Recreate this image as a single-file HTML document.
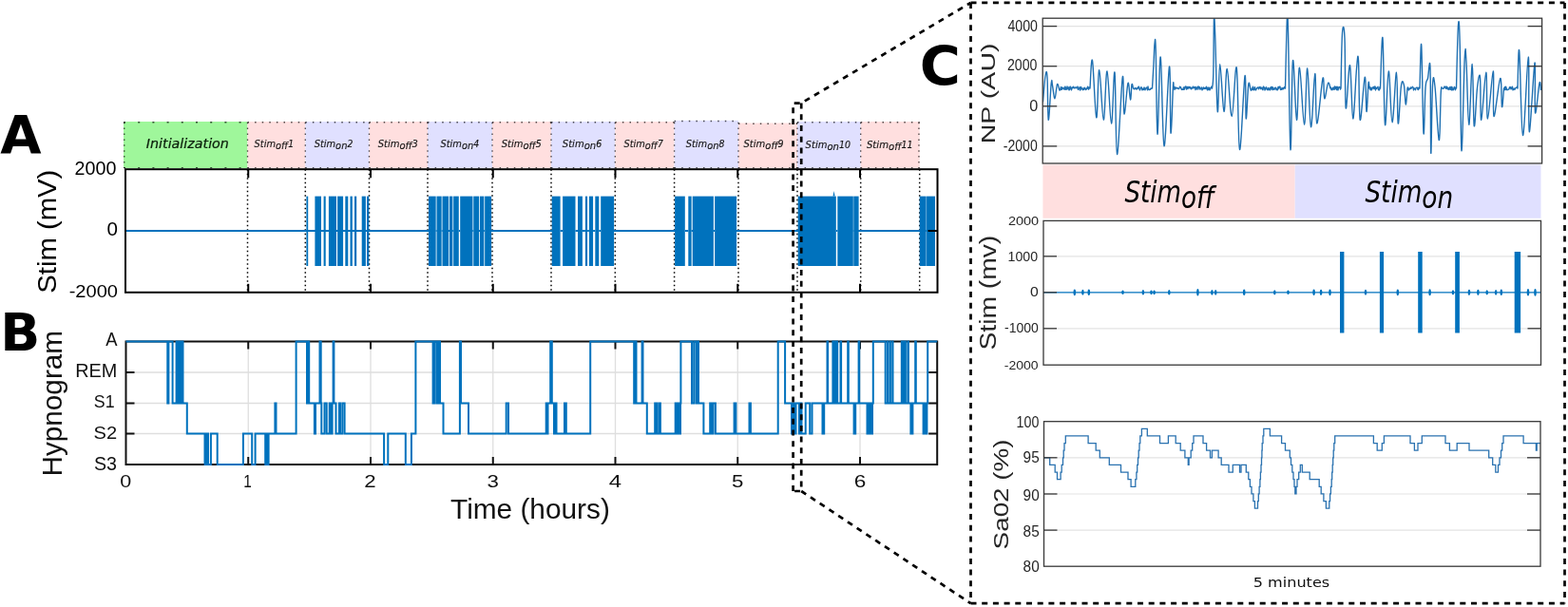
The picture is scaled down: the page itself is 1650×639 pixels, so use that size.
<!DOCTYPE html>
<html><head><meta charset="utf-8"><style>html,body{margin:0;padding:0;background:#fff;overflow:hidden;}svg{display:block;}</style></head>
<body><svg width="1650" height="639" viewBox="0 0 1650 639">
<rect width="1650" height="639" fill="#fff"/>
<rect x="130" y="128" width="130.50" height="49.0" fill="#9ff79b"/>
<rect x="260.5" y="128" width="60.80" height="49.0" fill="#ffdfdf"/>
<rect x="321.3" y="128" width="67.20" height="49.0" fill="#e0e0ff"/>
<rect x="388.5" y="128" width="61.50" height="49.0" fill="#ffdfdf"/>
<rect x="450" y="128" width="68.00" height="49.0" fill="#e0e0ff"/>
<rect x="518" y="128" width="62.00" height="49.0" fill="#ffdfdf"/>
<rect x="580" y="128" width="67.30" height="49.0" fill="#e0e0ff"/>
<rect x="647.3" y="128" width="62.30" height="49.0" fill="#ffdfdf"/>
<rect x="709.6" y="126.8" width="67.40" height="50.2" fill="#e0e0ff"/>
<rect x="777" y="129.5" width="62.00" height="47.5" fill="#ffdfdf"/>
<rect x="839" y="128" width="66.70" height="49.0" fill="#e0e0ff"/>
<rect x="905.7" y="128" width="62.00" height="49.0" fill="#ffdfdf"/>
<g stroke="#000" stroke-opacity="0.68" stroke-width="1.35" fill="none">
<path d="M130 128.7 H260.5 M130 176.6 H260.5" stroke-dasharray="2 13.2"/>
<path d="M260.5 128.7 H321.3 M260.5 176.6 H321.3" stroke-dasharray="1.5 6.1"/>
<path d="M321.3 128.7 H388.5 M321.3 176.6 H388.5" stroke-dasharray="1.5 6.1"/>
<path d="M388.5 128.7 H450 M388.5 176.6 H450" stroke-dasharray="1.5 6.1"/>
<path d="M450 128.7 H518 M450 176.6 H518" stroke-dasharray="1.5 6.1"/>
<path d="M518 128.7 H580 M518 176.6 H580" stroke-dasharray="1.5 6.1"/>
<path d="M580 128.7 H647.3 M580 176.6 H647.3" stroke-dasharray="1.5 6.1"/>
<path d="M647.3 128.7 H709.6 M647.3 176.6 H709.6" stroke-dasharray="1.5 6.1"/>
<path d="M709.6 127.5 H777 M709.6 176.6 H777" stroke-dasharray="1.5 6.1"/>
<path d="M777 130.2 H839 M777 176.6 H839" stroke-dasharray="1.5 6.1"/>
<path d="M839 128.7 H905.7 M839 176.6 H905.7" stroke-dasharray="1.5 6.1"/>
<path d="M905.7 128.7 H967.7 M905.7 176.6 H967.7" stroke-dasharray="1.5 6.1"/>
<path d="M130.75 128.7 V176.8" stroke-dasharray="1.5 4.4"/>
<path d="M260.5 128.7 V176.8" stroke-dasharray="1.5 4.4"/>
<path d="M321.3 128.7 V176.8" stroke-dasharray="1.5 4.4"/>
<path d="M388.5 128.7 V176.8" stroke-dasharray="1.5 4.4"/>
<path d="M450 128.7 V176.8" stroke-dasharray="1.5 4.4"/>
<path d="M518 128.7 V176.8" stroke-dasharray="1.5 4.4"/>
<path d="M580 128.7 V176.8" stroke-dasharray="1.5 4.4"/>
<path d="M647.3 128.7 V176.8" stroke-dasharray="1.5 4.4"/>
<path d="M709.6 128.7 V176.8" stroke-dasharray="1.5 4.4"/>
<path d="M777 128.7 V176.8" stroke-dasharray="1.5 4.4"/>
<path d="M839 128.7 V176.8" stroke-dasharray="1.5 4.4"/>
<path d="M905.7 128.7 V176.8" stroke-dasharray="1.5 4.4"/>
<path d="M966.95 128.7 V176.8" stroke-dasharray="1.5 4.4"/>
</g>
<g stroke="#000" stroke-width="1.5" stroke-dasharray="1.5 3">
<line x1="260.5" y1="178.2" x2="260.5" y2="307.8"/>
<line x1="321.3" y1="178.2" x2="321.3" y2="307.8"/>
<line x1="388.5" y1="178.2" x2="388.5" y2="307.8"/>
<line x1="450" y1="178.2" x2="450" y2="307.8"/>
<line x1="518" y1="178.2" x2="518" y2="307.8"/>
<line x1="580" y1="178.2" x2="580" y2="307.8"/>
<line x1="647.3" y1="178.2" x2="647.3" y2="307.8"/>
<line x1="709.6" y1="178.2" x2="709.6" y2="307.8"/>
<line x1="777" y1="178.2" x2="777" y2="307.8"/>
<line x1="839" y1="178.2" x2="839" y2="307.8"/>
<line x1="905.7" y1="178.2" x2="905.7" y2="307.8"/>
<line x1="967.7" y1="178.2" x2="967.7" y2="307.8"/>
</g>
<line x1="132" y1="243" x2="986.5" y2="243" stroke="#0072bd" stroke-width="2"/>
<rect x="322.4" y="206.6" width="1.80" height="73.4" fill="#0072bd"/>
<rect x="331.4" y="206.6" width="6.60" height="73.4" fill="#0072bd"/>
<rect x="340.6" y="206.6" width="2.10" height="73.4" fill="#0072bd"/>
<rect x="345.9" y="206.6" width="8.10" height="73.4" fill="#0072bd"/>
<rect x="355.1" y="206.6" width="6.00" height="73.4" fill="#0072bd"/>
<rect x="363.3" y="206.6" width="3.00" height="73.4" fill="#0072bd"/>
<rect x="368.5" y="206.6" width="2.30" height="73.4" fill="#0072bd"/>
<rect x="373" y="206.6" width="2.20" height="73.4" fill="#0072bd"/>
<rect x="380.7" y="206.6" width="4.20" height="73.4" fill="#0072bd"/>
<rect x="386" y="206.6" width="2.30" height="73.4" fill="#0072bd"/>
<rect x="451" y="206.6" width="66.10" height="73.4" fill="#0072bd"/>
<rect x="458.6" y="206" width="1.00" height="74.6" fill="#fff" opacity="0.8"/>
<rect x="458.6" y="242" width="1.00" height="2" fill="#0072bd"/>
<rect x="464.6" y="206" width="1.00" height="74.6" fill="#fff" opacity="0.8"/>
<rect x="464.6" y="242" width="1.00" height="2" fill="#0072bd"/>
<rect x="472" y="206" width="1.00" height="74.6" fill="#fff" opacity="0.8"/>
<rect x="472" y="242" width="1.00" height="2" fill="#0072bd"/>
<rect x="476.2" y="206" width="1.00" height="74.6" fill="#fff" opacity="0.8"/>
<rect x="476.2" y="242" width="1.00" height="2" fill="#0072bd"/>
<rect x="482.8" y="206" width="1.40" height="74.6" fill="#fff" opacity="1"/>
<rect x="482.8" y="242" width="1.40" height="2" fill="#0072bd"/>
<rect x="497.3" y="206" width="1.00" height="74.6" fill="#fff" opacity="0.8"/>
<rect x="497.3" y="242" width="1.00" height="2" fill="#0072bd"/>
<rect x="504" y="206" width="1.00" height="74.6" fill="#fff" opacity="0.8"/>
<rect x="504" y="242" width="1.00" height="2" fill="#0072bd"/>
<rect x="509.2" y="206" width="1.00" height="74.6" fill="#fff" opacity="0.8"/>
<rect x="509.2" y="242" width="1.00" height="2" fill="#0072bd"/>
<rect x="580.7" y="206.6" width="65.40" height="73.4" fill="#0072bd"/>
<rect x="589.6" y="206" width="2.50" height="74.6" fill="#fff" opacity="1"/>
<rect x="589.6" y="242" width="2.50" height="2" fill="#0072bd"/>
<rect x="605.5" y="206" width="2.50" height="74.6" fill="#fff" opacity="1"/>
<rect x="605.5" y="242" width="2.50" height="2" fill="#0072bd"/>
<rect x="612.9" y="206" width="3.00" height="74.6" fill="#fff" opacity="1"/>
<rect x="612.9" y="242" width="3.00" height="2" fill="#0072bd"/>
<rect x="618.1" y="206" width="1.80" height="74.6" fill="#fff" opacity="1"/>
<rect x="618.1" y="242" width="1.80" height="2" fill="#0072bd"/>
<rect x="624.1" y="206" width="2.20" height="74.6" fill="#fff" opacity="1"/>
<rect x="624.1" y="242" width="2.20" height="2" fill="#0072bd"/>
<rect x="630.3" y="206" width="1.90" height="74.6" fill="#fff" opacity="1"/>
<rect x="630.3" y="242" width="1.90" height="2" fill="#0072bd"/>
<rect x="710.1" y="206.6" width="65.00" height="73.4" fill="#0072bd"/>
<rect x="720.8" y="206" width="3.50" height="74.6" fill="#fff" opacity="1"/>
<rect x="720.8" y="242" width="3.50" height="2" fill="#0072bd"/>
<rect x="727.5" y="206" width="1.50" height="74.6" fill="#fff" opacity="0.7"/>
<rect x="727.5" y="242" width="1.50" height="2" fill="#0072bd"/>
<rect x="750.9" y="206" width="1.20" height="74.6" fill="#fff" opacity="1"/>
<rect x="750.9" y="242" width="1.20" height="2" fill="#0072bd"/>
<rect x="839.7" y="206.6" width="63.90" height="73.4" fill="#0072bd"/>
<rect x="879.8" y="206" width="1.50" height="74.6" fill="#fff" opacity="1"/>
<rect x="879.8" y="242" width="1.50" height="2" fill="#0072bd"/>
<rect x="897.7" y="206" width="0.70" height="74.6" fill="#fff" opacity="0.6"/>
<rect x="897.7" y="242" width="0.70" height="2" fill="#0072bd"/>
<path d="M876.5 206.6 L877.6 201 L878.6 206.6Z" fill="#0072bd"/>
<rect x="967.7" y="206.6" width="16.30" height="73.4" fill="#0072bd"/>
<rect x="974.3" y="206" width="0.80" height="74.6" fill="#fff" opacity="0.5"/>
<rect x="974.3" y="242" width="0.80" height="2" fill="#0072bd"/>
<rect x="132" y="178.2" width="854.5" height="129.60000000000002" fill="none" stroke="#000" stroke-width="2"/>
<g stroke="#000" stroke-width="2">
<line x1="261.25" y1="178.2" x2="261.25" y2="187.2"/>
<line x1="261.25" y1="307.8" x2="261.25" y2="298.8"/>
<line x1="390.0" y1="178.2" x2="390.0" y2="187.2"/>
<line x1="390.0" y1="307.8" x2="390.0" y2="298.8"/>
<line x1="518.75" y1="178.2" x2="518.75" y2="187.2"/>
<line x1="518.75" y1="307.8" x2="518.75" y2="298.8"/>
<line x1="647.5" y1="178.2" x2="647.5" y2="187.2"/>
<line x1="647.5" y1="307.8" x2="647.5" y2="298.8"/>
<line x1="776.25" y1="178.2" x2="776.25" y2="187.2"/>
<line x1="776.25" y1="307.8" x2="776.25" y2="298.8"/>
<line x1="905.0" y1="178.2" x2="905.0" y2="187.2"/>
<line x1="905.0" y1="307.8" x2="905.0" y2="298.8"/>
<line x1="986.5" y1="243" x2="976.5" y2="243"/>
</g>
<g stroke="#dedede" stroke-width="1.3">
<line x1="132.5" y1="392" x2="986.2" y2="392"/>
<line x1="132.5" y1="424.5" x2="986.2" y2="424.5"/>
<line x1="132.5" y1="456.5" x2="986.2" y2="456.5"/>
<line x1="261.25" y1="359.5" x2="261.25" y2="489"/>
<line x1="390.0" y1="359.5" x2="390.0" y2="489"/>
<line x1="518.75" y1="359.5" x2="518.75" y2="489"/>
<line x1="647.5" y1="359.5" x2="647.5" y2="489"/>
<line x1="776.25" y1="359.5" x2="776.25" y2="489"/>
<line x1="905.0" y1="359.5" x2="905.0" y2="489"/>
</g>
<rect x="132.5" y="359.5" width="853.7" height="129.5" fill="none" stroke="#111" stroke-width="2"/>
<g stroke="#111" stroke-width="2">
<line x1="132.5" y1="392" x2="141.5" y2="392"/>
<line x1="986.2" y1="392" x2="977.2" y2="392"/>
<line x1="132.5" y1="424.5" x2="141.5" y2="424.5"/>
<line x1="986.2" y1="424.5" x2="977.2" y2="424.5"/>
<line x1="132.5" y1="456.5" x2="141.5" y2="456.5"/>
<line x1="986.2" y1="456.5" x2="977.2" y2="456.5"/>
<line x1="261.25" y1="359.5" x2="261.25" y2="367.5"/>
<line x1="261.25" y1="489" x2="261.25" y2="481"/>
<line x1="390.0" y1="359.5" x2="390.0" y2="367.5"/>
<line x1="390.0" y1="489" x2="390.0" y2="481"/>
<line x1="518.75" y1="359.5" x2="518.75" y2="367.5"/>
<line x1="518.75" y1="489" x2="518.75" y2="481"/>
<line x1="647.5" y1="359.5" x2="647.5" y2="367.5"/>
<line x1="647.5" y1="489" x2="647.5" y2="481"/>
<line x1="776.25" y1="359.5" x2="776.25" y2="367.5"/>
<line x1="776.25" y1="489" x2="776.25" y2="481"/>
<line x1="905.0" y1="359.5" x2="905.0" y2="367.5"/>
<line x1="905.0" y1="489" x2="905.0" y2="481"/>
</g>
<path d="M132.5 359.5 H176.3 V424.5 H177.4 V359.5 H181.6 V424.5 H185.6 V359.5 H185.9 V424.5 H187.9 V359.5 H188.2 V424.5 H190.0 V359.5 H190.3 V424.5 H192.1 V359.5 H192.5 V424.5 H196.8 V456.5 H215.5 V489 H217.4 V456.5 H219 V489 H221.9 V456.5 H228.7 V489 H255.9 V456.5 H265.2 V489 H268.6 V456.5 H279.2 V489 H280.5 V456.5 H281.3 V489 H282.6 V456.5 H289.4 V424.5 H290.5 V456.5 H311.6 V359.5 H323.0 V424.5 H324.0 V359.5 H325.2 V424.5 H330.9 V456.5 H332.0 V424.5 H336.5 V359.5 H337.7 V424.5 H338.3 V456.5 H341.5 V424.5 H343.7 V456.5 H346.7 V424.5 H348.0 V456.5 H349.6 V424.5 H350.6 V359.5 H351.4 V424.5 H353.5 V456.5 H356.9 V424.5 H358.0 V456.5 H360.3 V424.5 H362.6 V456.5 H404.1 V489 H408.3 V456.5 H426.8 V489 H432.9 V456.5 H437.4 V359.5 H455.6 V424.5 H457.2 V359.5 H459.4 V424.5 H461.3 V359.5 H463 V424.5 H466.5 V456.5 H483.9 V359.5 H485 V424.5 H493 V456.5 H532.7 V424.5 H535 V456.5 H574.7 V424.5 H575.6 V456.5 H576.5 V424.5 H579.2 V359.5 H580.8 V424.5 H583 V456.5 H584.5 V424.5 H585.5 V456.5 H594 V424.5 H595.8 V456.5 H621.2 V359.5 H667.2 V424.5 H668.2 V359.5 H669.5 V424.5 H675.6 V359.5 H676.5 V424.5 H680.8 V456.5 H689.2 V424.5 H690 V456.5 H690.8 V424.5 H691.5 V456.5 H693.7 V424.5 H694.9 V456.5 H710.7 V424.5 H712 V456.5 H713.5 V424.5 H715 V456.5 H716 V424.5 H716.4 V359.5 H728 V424.5 H730.2 V359.5 H732.5 V424.5 H733.5 V359.5 H735 V424.5 H740.4 V456.5 H747.2 V424.5 H748.5 V456.5 H750.5 V424.5 H752.9 V456.5 H772.6 V424.5 H774.4 V456.5 H788.5 V424.5 H789.9 V456.5 H818.7 V359.5 H826.1 V424.5 H833 V456.5 H834.5 V424.5 H835.5 V456.5 H837.5 V424.5 H840.9 V456.5 H842.5 V424.5 H843.5 V456.5 H847.7 V424.5 H852.2 V456.5 H854.5 V424.5 H865.5 V456.5 H867.2 V424.5 H870.5 V359.5 H871.1 V424.5 H876.4 V359.5 H877.0 V424.5 H878.4 V359.5 H879.0 V424.5 H880.6 V359.5 H881.2 V424.5 H884.5 V359.5 H885.1 V424.5 H892.2 V359.5 H892.8000000000001 V424.5 H898.6 V456.5 H900.2 V424.5 H903.6 V359.5 H904.2 V424.5 H912.5 V456.5 H913.6 V424.5 H914.4 V456.5 H916.0 V424.5 H916.8 V456.5 H918.0 V424.5 H918.8 V359.5 H931.7 V424.5 H934.0 V359.5 H934.3 V424.5 H936.6 V359.5 H936.9 V424.5 H939.2 V359.5 H939.5 V424.5 H948.8 V359.5 H949.4 V424.5 H950.8 V359.5 H951.4 V424.5 H952.3 V359.5 H952.9 V424.5 H955.3 V359.5 H955.9 V424.5 H958.4 V456.5 H960.4 V424.5 H963.2 V359.5 H963.8000000000001 V424.5 H971.6 V456.5 H972.8 V424.5 H973.6 V456.5 H975.4 V424.5 H976.2 V359.5 H986.2" fill="none" stroke="#0072bd" stroke-width="2" stroke-linejoin="miter"/>
<g stroke="#000" stroke-width="2.7" stroke-dasharray="6 5.7" fill="none">
<path d="M1021.5 2.9 H1646.5"/>
<path d="M1646.5 2.9 V635.2"/>
<path d="M1021.5 635.2 H1646.5"/>
<path d="M1021.5 2.9 V635.2"/>
<path d="M834.6 517 L834.6 108.6 L843.2 108.6 L1021.5 2.9"/>
<path d="M843.2 108.6 L843.2 517 L834.6 517 M843.2 517 L1021.5 635.2"/>
</g>
<g stroke="#e3e3e3" stroke-width="1.2">
<line x1="1097.2" y1="27.6" x2="1622.6" y2="27.6"/>
<line x1="1097.2" y1="69.7" x2="1622.6" y2="69.7"/>
<line x1="1097.2" y1="111.8" x2="1622.6" y2="111.8"/>
<line x1="1097.2" y1="153.9" x2="1622.6" y2="153.9"/>
</g>
<clipPath id="npc"><rect x="1097.2" y="19.2" width="525.4" height="152.8"/></clipPath>
<path d="M1097.5 107.5 C1097.96 102.46 1099.17 84.86 1100.00 80.00 C1100.83 75.14 1101.40 72.52 1102.00 81.00 C1102.60 89.48 1102.47 125.06 1103.25 126.25 C1104.03 127.44 1105.47 94.15 1106.25 87.50 C1107.03 80.85 1106.81 87.02 1107.50 90.00 C1108.19 92.98 1109.08 103.98 1110.00 103.75 C1110.92 103.52 1111.58 90.35 1112.50 88.75 C1113.42 87.15 1114.36 94.22 1115.00 95.00 C1115.64 95.78 1115.82 93.37 1116.00 93.00 L1116.50 91.54 L1117.00 94.39 L1117.50 94.06 L1118.00 92.02 L1118.50 92.98 L1119.00 92.80 L1119.50 93.61 L1120.00 94.15 L1120.50 91.38 L1121.00 91.11 L1121.50 94.34 L1122.00 92.73 L1122.50 94.05 L1123.00 91.01 L1123.50 92.78 L1124.00 93.89 L1124.50 91.92 L1125.00 94.78 L1125.50 94.61 L1126.00 91.12 L1126.50 91.10 L1127.00 93.17 L1127.50 94.76 L1128.00 92.52 L1128.50 91.87 L1129.00 92.69 L1129.50 91.12 L1130.00 91.89 L1130.50 92.75 L1131.00 92.98 L1131.50 91.93 L1132.00 91.92 L1132.50 91.88 L1133.00 92.84 L1133.50 92.16 L1134.00 91.09 L1134.50 94.35 L1135.00 93.23 L1135.50 93.57 L1136.00 91.74 L1136.50 94.97 L1137.00 94.44 L1137.50 91.48 L1138.00 92.33 L1138.50 93.89 L1139.00 93.84 L1139.50 94.75 L1140.00 92.69 L1140.50 94.32 L1141.00 93.68 L1141.50 92.21 L1142.00 93.35 L1142.50 94.53 L1143.00 94.38 L1143.50 93.02 L1144.00 93.36 L1144.50 91.14 L1145.00 91.97 L1145.50 94.19 L1146.00 92.66 L1146.50 91.69 L1147 93 C1147.46 87.64 1148.26 58.11 1149.50 63.75 C1150.74 69.39 1152.42 121.92 1153.75 123.75 C1155.08 125.58 1155.38 73.29 1156.75 73.75 C1158.12 74.21 1159.74 126.02 1161.25 126.25 C1162.76 126.48 1163.49 74.31 1165.00 75.00 C1166.51 75.69 1168.03 129.77 1169.50 130.00 C1170.97 130.23 1171.90 70.29 1173.00 76.25 C1174.10 82.21 1173.99 161.58 1175.50 162.50 C1177.01 163.42 1179.88 89.04 1181.25 81.25 C1182.62 73.46 1181.95 118.85 1183.00 120.00 C1184.05 121.15 1185.81 90.25 1187.00 87.50 C1188.19 84.75 1188.77 104.72 1189.50 105.00 C1190.23 105.28 1190.45 91.20 1191.00 89.00 C1191.55 86.80 1192.22 92.27 1192.50 93.00 L1193.00 93.20 L1193.50 93.81 L1194.00 93.70 L1194.50 92.50 L1195.00 92.76 L1195.50 93.03 L1196.00 94.11 L1196.50 93.08 L1197.00 92.57 L1197.50 92.96 L1198.00 91.12 L1198.50 91.17 L1199.00 93.81 L1199.50 94.93 L1200.00 93.37 L1200.50 92.57 L1201.00 91.68 L1201.50 93.01 L1202.00 94.93 L1202.50 94.08 L1203.00 93.16 L1203.50 94.44 L1204.00 91.93 L1204.50 93.06 L1205.00 94.81 L1205.50 93.31 L1206.00 92.84 L1206.50 92.08 L1207.00 93.19 L1207.50 94.83 L1208.00 91.02 L1208.50 94.13 L1209.00 94.28 L1209.50 94.54 L1210.00 93.96 L1210.50 94.24 L1211.00 93.07 L1211.50 93.25 L1212.00 92.70 L1212.5 93 C1212.78 88.23 1213.54 75.57 1214.00 67.00 C1214.46 58.43 1214.60 49.00 1215.00 46.25 C1215.40 43.50 1215.65 34.58 1216.20 52.00 C1216.75 69.42 1217.07 139.78 1218.00 141.25 C1218.93 142.72 1219.97 57.71 1221.25 60.00 C1222.53 62.29 1223.30 151.92 1225.00 153.75 C1226.70 155.58 1229.22 72.52 1230.50 70.00 C1231.78 67.48 1231.27 136.33 1232.00 140.00 C1232.73 143.67 1233.95 98.62 1234.50 90.00 C1235.05 81.38 1234.91 92.45 1235.00 93.00 L1235.50 91.22 L1236.00 94.48 L1236.50 93.28 L1237.00 91.80 L1237.50 93.02 L1238.00 92.94 L1238.50 92.43 L1239.00 92.38 L1239.50 93.15 L1240.00 93.49 L1240.50 93.45 L1241.00 92.83 L1241.50 91.11 L1242.00 91.92 L1242.50 91.71 L1243.00 93.34 L1243.50 94.44 L1244.00 94.19 L1244.50 94.19 L1245.00 94.27 L1245.50 92.02 L1246.00 94.37 L1246.50 93.69 L1247.00 91.33 L1247.50 91.07 L1248.00 91.06 L1248.50 94.02 L1249.00 92.00 L1249.50 91.44 L1250.00 93.50 L1250.50 92.38 L1251.00 91.28 L1251.50 91.64 L1252.00 93.11 L1252.50 91.67 L1253.00 92.09 L1253.50 93.85 L1254.00 92.82 L1254.50 92.29 L1255.00 92.90 L1255.50 91.09 L1256.00 92.55 L1256.50 92.68 L1257.00 91.75 L1257.50 91.44 L1258.00 94.60 L1258.50 93.04 L1259.00 91.84 L1259.50 93.42 L1260.00 94.27 L1260.50 91.08 L1261.00 91.07 L1261.50 91.59 L1262.00 93.88 L1262.50 91.64 L1263.00 93.82 L1263.50 93.71 L1264.00 93.18 L1264.50 91.88 L1265.00 94.90 L1265.50 94.19 L1266.00 93.07 L1266.50 91.89 L1267.00 93.59 L1267.50 92.58 L1268.00 93.30 L1268.50 92.28 L1269.00 93.52 L1269.50 91.24 L1270.00 92.19 L1270.50 94.87 L1271.00 94.50 L1271.50 92.23 L1272.00 94.43 L1272.50 92.24 L1273.00 94.76 L1273.50 93.98 L1274.00 92.66 L1274.50 92.01 L1275.00 91.03 L1275.5 93 C1275.74 90.25 1276.43 91.57 1276.80 78.00 C1277.17 64.43 1277.13 25.97 1277.50 19.00 C1277.87 12.03 1278.11 21.94 1278.80 40.00 C1279.49 58.06 1280.34 112.46 1281.25 117.50 C1282.16 122.54 1282.51 67.50 1283.75 67.50 C1284.99 67.50 1286.62 116.58 1288.00 117.50 C1289.38 118.42 1289.74 71.58 1291.25 72.50 C1292.76 73.42 1294.42 122.73 1296.25 122.50 C1298.08 122.27 1299.74 64.83 1301.25 71.25 C1302.76 77.67 1302.90 155.90 1304.50 157.50 C1306.10 159.10 1308.76 85.96 1310.00 80.00 C1311.24 74.04 1310.55 123.39 1311.25 125.00 C1311.95 126.61 1312.89 94.30 1313.80 88.80 C1314.71 83.30 1315.52 94.23 1316.20 95.00 C1316.88 95.77 1317.26 93.37 1317.50 93.00 L1318.00 94.51 L1318.50 91.15 L1319.00 94.28 L1319.50 94.85 L1320.00 93.28 L1320.50 91.69 L1321.00 94.47 L1321.50 94.90 L1322.00 93.82 L1322.50 93.04 L1323.00 92.51 L1323.50 92.39 L1324.00 91.82 L1324.50 93.70 L1325.00 92.73 L1325.50 91.78 L1326.00 91.42 L1326.50 93.66 L1327.00 92.18 L1327.50 93.00 L1328.00 92.30 L1328.50 94.49 L1329.00 94.60 L1329.50 91.07 L1330.00 91.80 L1330.50 92.31 L1331.00 94.95 L1331.50 94.13 L1332.00 92.36 L1332.50 91.85 L1333.00 93.70 L1333.50 94.35 L1334.00 94.73 L1334.50 92.38 L1335.00 94.53 L1335.50 93.75 L1336.00 92.94 L1336.50 94.94 L1337.00 91.94 L1337.50 93.90 L1338.00 91.34 L1338.50 91.68 L1339.00 94.64 L1339.50 91.85 L1340.00 94.04 L1340.50 93.40 L1341.00 94.36 L1341.50 92.47 L1342.00 92.36 L1342.50 92.16 L1343.00 94.47 L1343.50 93.42 L1344.00 94.82 L1344.50 94.55 L1345.00 91.54 L1345.50 93.20 L1346.00 91.42 L1346.50 91.16 L1347.00 91.29 L1347.50 94.46 L1348.00 94.15 L1348.50 94.31 L1349.00 92.36 L1349.50 93.46 L1350.00 94.13 L1350.50 92.51 L1351.00 93.28 L1351.50 91.89 L1352.00 91.33 L1352.5 93 C1352.85 79.43 1353.85 30.00 1354.40 19.00 C1354.95 8.00 1354.84 7.61 1355.50 33.00 C1356.16 58.39 1357.08 151.86 1358.00 157.50 C1358.92 163.14 1359.31 69.48 1360.50 63.75 C1361.69 58.02 1363.22 124.88 1364.50 126.25 C1365.78 127.62 1366.03 70.33 1367.50 71.25 C1368.97 72.17 1370.99 131.11 1372.50 131.25 C1374.01 131.39 1374.47 71.54 1375.75 72.00 C1377.03 72.46 1378.03 132.74 1379.50 133.75 C1380.97 134.76 1382.60 78.19 1383.75 77.50 C1384.90 76.81 1384.24 129.08 1385.75 130.00 C1387.26 130.92 1390.53 87.31 1392.00 82.50 C1393.47 77.69 1392.74 102.83 1393.75 103.75 C1394.76 104.67 1396.35 89.47 1397.50 87.50 C1398.65 85.53 1399.54 91.99 1400.00 93.00 L1400.50 92.07 L1401.00 94.56 L1401.50 93.26 L1402.00 94.70 L1402.50 92.83 L1403.00 92.11 L1403.50 94.15 L1404.00 94.31 L1404.50 91.05 L1405.00 93.68 L1405.50 91.37 L1406.00 91.46 L1406.50 94.54 L1407.00 91.16 L1407.50 91.96 L1408.00 94.95 L1408.50 92.68 L1409.00 91.46 L1409.50 91.67 L1410.00 91.97 L1410.50 93.98 L1411 93 C1411.28 82.37 1411.77 44.72 1412.50 35.00 C1413.23 25.28 1414.31 25.56 1415.00 40.00 C1415.69 54.44 1415.24 108.48 1416.25 113.75 C1417.26 119.02 1419.12 66.69 1420.50 68.75 C1421.88 70.81 1422.47 124.31 1423.75 125.00 C1425.03 125.69 1426.45 83.73 1427.50 72.50 C1428.55 61.27 1428.81 53.90 1429.50 63.75 C1430.19 73.60 1430.01 123.04 1431.25 126.25 C1432.49 129.46 1435.01 82.85 1436.25 81.25 C1437.49 79.65 1437.31 116.35 1438.00 117.50 C1438.69 118.65 1439.45 91.99 1440.00 87.50 C1440.55 83.01 1440.82 91.99 1441.00 93.00 L1441.50 91.41 L1442.00 94.64 L1442.50 92.51 L1443.00 94.88 L1443.50 94.64 L1444.00 92.18 L1444.50 92.01 L1445.00 92.91 L1445.50 91.40 L1446.00 93.61 L1446.50 91.16 L1447.00 91.04 L1447.50 94.93 L1448.00 92.18 L1448.50 93.39 L1449.00 92.80 L1449.50 92.25 L1450.00 91.25 L1450.50 94.65 L1451.00 94.88 L1451.50 94.88 L1452.00 91.45 L1452.5 93 C1452.96 83.28 1454.08 32.99 1455.00 40.00 C1455.92 47.01 1456.35 124.83 1457.50 131.25 C1458.65 137.67 1459.88 75.46 1461.25 75.00 C1462.62 74.54 1463.49 128.52 1465.00 128.75 C1466.51 128.98 1468.35 76.02 1469.50 76.25 C1470.65 76.48 1470.33 127.48 1471.25 130.00 C1472.17 132.52 1473.35 97.33 1474.50 90.00 C1475.65 82.67 1476.63 86.33 1477.50 90.00 C1478.37 93.67 1478.61 109.45 1479.25 110.00 C1479.89 110.55 1480.68 96.12 1481.00 93.00 L1481.50 91.86 L1482.00 93.47 L1482.50 94.92 L1483.00 93.17 L1483.50 93.75 L1484.00 93.65 L1484.50 92.04 L1485.00 93.17 L1485.50 92.23 L1486.00 91.99 L1486.50 91.33 L1487.00 92.12 L1487.50 94.93 L1488.00 92.79 L1488.50 93.61 L1489.00 93.57 L1489.50 94.76 L1490.00 92.56 L1490.50 92.23 L1491.00 92.31 L1491.50 92.27 L1492.00 94.39 L1492.50 94.57 L1493.00 92.21 L1493.50 92.34 L1494 93 C1494.32 84.66 1495.02 38.88 1495.75 47.50 C1496.48 56.12 1497.22 131.75 1498.00 140.00 C1498.78 148.25 1499.17 103.04 1500.00 92.50 C1500.83 81.96 1501.58 86.40 1502.50 82.50 C1503.42 78.60 1504.40 56.81 1505.00 71.25 C1505.60 85.69 1505.29 157.81 1505.75 161.25 C1506.21 164.69 1506.72 102.88 1507.50 90.00 C1508.28 77.12 1508.76 80.46 1510.00 91.00 C1511.24 101.54 1513.10 146.31 1514.25 147.50 C1515.40 148.69 1515.65 107.49 1516.25 97.50 C1516.85 87.51 1517.27 93.83 1517.50 93.00 L1518.00 93.18 L1518.50 93.32 L1519.00 93.38 L1519.50 91.98 L1520.00 91.08 L1520.50 91.98 L1521.00 91.29 L1521.50 93.20 L1522.00 91.28 L1522.50 91.30 L1523.00 93.54 L1523.50 92.16 L1524.00 94.17 L1524.50 92.97 L1525.00 94.45 L1525.50 91.62 L1526.00 93.01 L1526.50 94.18 L1527.00 91.31 L1527.50 94.80 L1528.00 91.69 L1528.50 94.10 L1529.00 94.94 L1529.50 94.29 L1530.00 92.28 L1530.50 91.43 L1531.00 93.06 L1531.50 94.68 L1532.00 92.17 L1532.5 93 C1532.87 80.76 1533.81 34.59 1534.50 26.25 C1535.19 17.91 1535.61 23.21 1536.25 47.50 C1536.89 71.79 1537.08 156.23 1538.00 158.75 C1538.92 161.27 1540.33 78.44 1541.25 61.25 C1542.17 44.06 1542.17 52.17 1543.00 65.00 C1543.83 77.83 1544.60 130.79 1545.75 131.25 C1546.90 131.71 1548.24 67.27 1549.25 67.50 C1550.26 67.73 1550.29 127.92 1551.25 132.50 C1552.21 137.08 1553.35 101.90 1554.50 92.50 C1555.65 83.10 1556.72 75.06 1557.50 81.25 C1558.28 87.44 1557.60 127.17 1558.75 126.25 C1559.90 125.33 1562.51 76.48 1563.75 76.25 C1564.99 76.02 1564.12 125.23 1565.50 125.00 C1566.88 124.77 1570.06 75.46 1571.25 75.00 C1572.44 74.54 1570.62 121.12 1572.00 122.50 C1573.38 123.88 1577.19 84.33 1578.75 82.50 C1580.31 80.67 1579.81 110.58 1580.50 112.50 C1581.19 114.42 1582.13 96.58 1582.50 93.00 L1583.00 94.58 L1583.50 91.57 L1584.00 94.64 L1584.50 91.13 L1585.00 92.26 L1585.50 94.61 L1586.00 94.22 L1586.50 94.63 L1587.00 94.36 L1587.50 93.98 L1588.00 93.76 L1588.50 91.71 L1589.00 92.73 L1589.50 91.63 L1590.00 93.86 L1590.50 93.67 L1591.00 92.01 L1591.50 91.26 L1592.00 94.85 L1592.50 94.23 L1593.00 93.20 L1593.50 93.17 L1594.00 94.41 L1594.50 92.81 L1595.00 92.58 L1595.50 92.35 L1596.00 92.03 L1596.50 91.10 L1597 93 C1597.32 85.80 1597.74 44.67 1598.75 53.75 C1599.76 62.83 1600.76 141.35 1602.50 142.50 C1604.24 143.65 1607.01 60.69 1608.25 60.00 C1609.49 59.31 1608.01 137.60 1609.25 138.75 C1610.49 139.90 1613.85 69.92 1615.00 66.25 C1616.15 62.58 1614.58 114.85 1615.50 118.75 C1616.42 122.65 1618.90 91.85 1620.00 87.50 C1621.10 83.15 1621.22 93.62 1621.50 95.00" fill="none" stroke="#1f70b2" stroke-width="1.4" stroke-linejoin="round" clip-path="url(#npc)"/>
<rect x="1097.2" y="19.2" width="525.4" height="152.8" fill="none" stroke="#383838" stroke-width="1.3"/>
<g stroke="#383838" stroke-width="1.3">
<line x1="1097.2" y1="27.6" x2="1112.2" y2="27.6"/><line x1="1622.6" y1="27.6" x2="1607.6" y2="27.6"/>
<line x1="1097.2" y1="69.7" x2="1112.2" y2="69.7"/><line x1="1622.6" y1="69.7" x2="1607.6" y2="69.7"/>
<line x1="1097.2" y1="111.8" x2="1112.2" y2="111.8"/><line x1="1622.6" y1="111.8" x2="1607.6" y2="111.8"/>
<line x1="1097.2" y1="153.9" x2="1112.2" y2="153.9"/><line x1="1622.6" y1="153.9" x2="1607.6" y2="153.9"/>
</g>
<rect x="1097.4" y="173.3" width="265.3" height="56.4" fill="#ffdfdf"/>
<rect x="1362.7" y="173.3" width="258.8" height="56.4" fill="#e0e0ff"/>
<g stroke="#e3e3e3" stroke-width="1.2">
<line x1="1098" y1="269.8" x2="1621.5" y2="269.8"/>
<line x1="1098" y1="345.8" x2="1621.5" y2="345.8"/>
</g>
<line x1="1098" y1="307.8" x2="1621.5" y2="307.8" stroke="#0072bd" stroke-width="1.3"/>
<ellipse cx="1130.8" cy="307.8" rx="1.3" ry="3.4" fill="#0072bd"/>
<ellipse cx="1139.4" cy="307.8" rx="1.3" ry="3.0" fill="#0072bd"/>
<ellipse cx="1145.8" cy="307.8" rx="1.3" ry="3.2" fill="#0072bd"/>
<ellipse cx="1181.5" cy="307.8" rx="1.3" ry="2.3" fill="#0072bd"/>
<ellipse cx="1202.9" cy="307.8" rx="1.3" ry="2.8" fill="#0072bd"/>
<ellipse cx="1211.5" cy="307.8" rx="1.3" ry="2.4" fill="#0072bd"/>
<ellipse cx="1214.6" cy="307.8" rx="1.3" ry="2.4" fill="#0072bd"/>
<ellipse cx="1230.3" cy="307.8" rx="1.3" ry="2.7" fill="#0072bd"/>
<ellipse cx="1260.4" cy="307.8" rx="1.3" ry="3.7" fill="#0072bd"/>
<ellipse cx="1275.4" cy="307.8" rx="1.3" ry="2.9" fill="#0072bd"/>
<ellipse cx="1279.2" cy="307.8" rx="1.3" ry="2.9" fill="#0072bd"/>
<ellipse cx="1309.2" cy="307.8" rx="1.3" ry="3.3" fill="#0072bd"/>
<ellipse cx="1341.3" cy="307.8" rx="1.3" ry="2.6" fill="#0072bd"/>
<ellipse cx="1355.5" cy="307.8" rx="1.3" ry="2.2" fill="#0072bd"/>
<ellipse cx="1382.6" cy="307.8" rx="1.3" ry="3.2" fill="#0072bd"/>
<ellipse cx="1390.1" cy="307.8" rx="1.3" ry="3.1" fill="#0072bd"/>
<ellipse cx="1399.5" cy="307.8" rx="1.3" ry="3.4" fill="#0072bd"/>
<ellipse cx="1437" cy="307.8" rx="1.3" ry="3.0" fill="#0072bd"/>
<ellipse cx="1470.8" cy="307.8" rx="1.3" ry="3.4" fill="#0072bd"/>
<ellipse cx="1504.6" cy="307.8" rx="1.3" ry="3.5" fill="#0072bd"/>
<ellipse cx="1529" cy="307.8" rx="1.3" ry="2.6" fill="#0072bd"/>
<ellipse cx="1546" cy="307.8" rx="1.3" ry="3.1" fill="#0072bd"/>
<ellipse cx="1555.4" cy="307.8" rx="1.3" ry="3.1" fill="#0072bd"/>
<ellipse cx="1564.7" cy="307.8" rx="1.3" ry="2.6" fill="#0072bd"/>
<ellipse cx="1574.1" cy="307.8" rx="1.3" ry="2.9" fill="#0072bd"/>
<ellipse cx="1579.8" cy="307.8" rx="1.3" ry="3.2" fill="#0072bd"/>
<ellipse cx="1608" cy="307.8" rx="1.3" ry="3.8" fill="#0072bd"/>
<ellipse cx="1615.5" cy="307.8" rx="1.3" ry="3.9" fill="#0072bd"/>
<rect x="1410.0" y="265" width="4.4" height="85.5" fill="#0072bd"/>
<rect x="1451.9" y="265" width="4.2" height="85.5" fill="#0072bd"/>
<rect x="1492.2" y="265" width="4.5" height="85.5" fill="#0072bd"/>
<rect x="1531.2" y="265" width="4.7" height="85.5" fill="#0072bd"/>
<rect x="1593.7" y="265" width="6.4" height="85.5" fill="#0072bd"/>
<rect x="1098" y="232.4" width="523.5" height="151.8" fill="none" stroke="#383838" stroke-width="1.3"/>
<g stroke="#383838" stroke-width="1.3">
<line x1="1098" y1="269.8" x2="1112" y2="269.8"/>
<line x1="1621.5" y1="269.8" x2="1607.5" y2="269.8"/>
<line x1="1098" y1="307.8" x2="1112" y2="307.8"/>
<line x1="1098" y1="345.8" x2="1112" y2="345.8"/>
<line x1="1621.5" y1="345.8" x2="1607.5" y2="345.8"/>
</g>
<g stroke="#e3e3e3" stroke-width="1.2">
<line x1="1098.5" y1="481.8" x2="1621" y2="481.8"/>
<line x1="1098.5" y1="520.0" x2="1621" y2="520.0"/>
<line x1="1098.5" y1="558.1" x2="1621" y2="558.1"/>
</g>
<path d="M1098.5 481.83 H1098.9 V481.83 H1104.7 V489.45 H1110.2 V497.08 H1112.5 V504.70 H1116.1 V497.08 H1117.2 V489.45 H1118.5 V481.83 H1119.2 V474.20 H1120 V466.58 H1121.3 V458.95 H1145.1 V466.58 H1153.2 V474.20 H1157.3 V481.83 H1167.3 V489.45 H1179.5 V497.08 H1187 V504.70 H1190.1 V512.33 H1194.8 V504.70 H1195.9 V497.08 H1196.7 V489.45 H1197.5 V481.83 H1198.2 V474.20 H1199 V466.58 H1199.8 V458.95 H1201.4 V451.33 H1207.3 V458.95 H1220.5 V466.58 H1229.4 V458.95 H1237.2 V466.58 H1242.2 V474.20 H1246.9 V481.83 H1250.3 V489.45 H1251.1 V481.83 H1253.2 V474.20 H1254.7 V466.58 H1256 V458.95 H1266 V466.58 H1269.6 V474.20 H1273.5 V481.83 H1275.4 V474.20 H1282.1 V481.83 H1285.2 V489.45 H1293 V497.08 H1297.3 V489.45 H1304.5 V497.08 H1306 V489.45 H1311.3 V497.08 H1313.8 V504.70 H1315.4 V512.33 H1317 V519.95 H1318.9 V527.58 H1320.4 V535.20 H1323.5 V527.58 H1324.3 V519.95 H1325.1 V512.33 H1325.9 V504.70 H1326.4 V497.08 H1327 V489.45 H1327.5 V481.83 H1327.9 V474.20 H1328.2 V466.58 H1329 V458.95 H1329.8 V451.33 H1336.4 V458.95 H1348.6 V466.58 H1352.5 V474.20 H1357.3 V481.83 H1358.5 V489.45 H1359.8 V497.08 H1361 V504.70 H1362 V512.33 H1362.8 V519.95 H1364 V512.33 H1365 V504.70 H1366.7 V497.08 H1368.3 V489.45 H1370.3 V497.08 H1378.2 V504.70 H1388.2 V512.33 H1390.2 V519.95 H1392.9 V527.58 H1395.4 V535.20 H1398.8 V527.58 H1399.6 V519.95 H1400.4 V512.33 H1401.2 V504.70 H1401.7 V497.08 H1402.2 V489.45 H1402.7 V481.83 H1403.2 V474.20 H1403.8 V466.58 H1404.7 V458.95 H1445.4 V466.58 H1449.2 V474.20 H1454.3 V466.58 H1456.4 V458.95 H1484 V466.58 H1488.4 V474.20 H1492 V466.58 H1496.3 V458.95 H1521 V466.58 H1525.4 V474.20 H1533.2 V466.58 H1546 V474.20 H1566.7 V481.83 H1570.7 V489.45 H1573.8 V497.08 H1576.5 V489.45 H1578 V481.83 H1579.5 V474.20 H1580.7 V466.58 H1582 V458.95 H1603.1 V466.58 H1616.4 V474.20 H1617.2 V466.58 H1621 V466.58" fill="none" stroke="#2a72b0" stroke-width="1.3"/>
<rect x="1098.5" y="443.7" width="522.5" height="152.50000000000006" fill="none" stroke="#383838" stroke-width="1.3"/>
<g stroke="#383838" stroke-width="1.3">
<line x1="1098.5" y1="481.8" x2="1112.5" y2="481.8"/><line x1="1621" y1="481.8" x2="1607" y2="481.8"/>
<line x1="1098.5" y1="520.0" x2="1112.5" y2="520.0"/><line x1="1621" y1="520.0" x2="1607" y2="520.0"/>
<line x1="1098.5" y1="558.1" x2="1112.5" y2="558.1"/><line x1="1621" y1="558.1" x2="1607" y2="558.1"/>
</g>
<text transform="translate(0.18,160.82) scale(0.9997,0.9953)" font-family="DejaVu Sans, sans-serif" font-size="56" fill="#000" font-weight="bold">A</text>
<text transform="translate(0.32,369.23) scale(0.9846,0.9940)" font-family="DejaVu Sans, sans-serif" font-size="56" fill="#000" font-weight="bold">B</text>
<text transform="translate(967.80,89.75) scale(1.0491,1.0132)" font-family="DejaVu Sans, sans-serif" font-size="56" fill="#000" font-weight="bold">C</text>
<text transform="translate(78.58,183.97) scale(1.0361,1.0404)" font-family="Liberation Sans, sans-serif" font-size="19" fill="#000">2000</text>
<text transform="translate(112.39,248.02) scale(1.0847,1.0303)" font-family="Liberation Sans, sans-serif" font-size="19" fill="#000">0</text>
<text transform="translate(72.65,313.42) scale(1.0579,0.9456)" font-family="Liberation Sans, sans-serif" font-size="19" fill="#000">-2000</text>
<text transform="translate(58.81,308.76) scale(0.9661,0.9928) rotate(-90)" font-family="Liberation Sans, sans-serif" font-size="29.5" fill="#000">Stim (mV)</text>
<text transform="translate(111.15,364.18) scale(0.9923,1.0598)" font-family="Liberation Sans, sans-serif" font-size="18.5" fill="#111">A</text>
<text transform="translate(79.20,396.64) scale(1.0734,1.0468)" font-family="Liberation Sans, sans-serif" font-size="18.5" fill="#111">REM</text>
<text transform="translate(98.85,429.35) scale(0.9639,1.0404)" font-family="Liberation Sans, sans-serif" font-size="18.5" fill="#111">S1</text>
<text transform="translate(98.54,461.86) scale(1.0871,1.0303)" font-family="Liberation Sans, sans-serif" font-size="18.5" fill="#111">S2</text>
<text transform="translate(99.02,494.61) scale(1.0614,1.0955)" font-family="Liberation Sans, sans-serif" font-size="18.5" fill="#111">S3</text>
<text transform="translate(65.43,501.40) scale(1.0113,1.0061) rotate(-90)" font-family="Liberation Sans, sans-serif" font-size="29.5" fill="#111">Hypnogram</text>
<text transform="translate(474.06,546.01) scale(1.0109,0.9745)" font-family="Liberation Sans, sans-serif" font-size="29.5" fill="#111">Time (hours)</text>
<text transform="translate(126.35,513.05) scale(1.1653,1.0374)" font-family="Liberation Sans, sans-serif" font-size="18.5" fill="#111">0</text>
<text transform="translate(256.13,513.05) scale(0.8340,1.0374)" font-family="Liberation Sans, sans-serif" font-size="18.5" fill="#111">1</text>
<text transform="translate(383.32,513.05) scale(1.2030,1.0374)" font-family="Liberation Sans, sans-serif" font-size="18.5" fill="#111">2</text>
<text transform="translate(1060.46,32.60) scale(0.8854,1.0612)" font-family="Liberation Sans, sans-serif" font-size="16" fill="#262626">4000</text>
<text transform="translate(1060.00,74.44) scale(0.8832,1.0000)" font-family="Liberation Sans, sans-serif" font-size="16" fill="#262626">2000</text>
<text transform="translate(1083.13,116.68) scale(1.0132,0.9729)" font-family="Liberation Sans, sans-serif" font-size="16" fill="#262626">0</text>
<text transform="translate(1055.81,159.24) scale(0.8786,0.9729)" font-family="Liberation Sans, sans-serif" font-size="16" fill="#262626">-2000</text>
<text transform="translate(1047.18,151.35) scale(0.7803,1.0600) rotate(-90)" font-family="Liberation Sans, sans-serif" font-size="27" fill="#262626">NP (AU)</text>
<text transform="translate(1183.44,213.07) scale(0.8178,1.0161)" font-family="DejaVu Sans, sans-serif" font-size="32" fill="#000" font-style="italic">Stim<tspan dy="6">off</tspan></text>
<text transform="translate(1436.43,213.07) scale(0.8218,1.0161)" font-family="DejaVu Sans, sans-serif" font-size="32" fill="#000" font-style="italic">Stim<tspan dy="6">on</tspan></text>
<text transform="translate(1060.97,236.90) scale(1.0345,0.9695)" font-family="Liberation Sans, sans-serif" font-size="14" fill="#262626">2000</text>
<text transform="translate(1060.54,275.11) scale(1.0128,1.0242)" font-family="Liberation Sans, sans-serif" font-size="14" fill="#262626">1000</text>
<text transform="translate(1084.06,312.27) scale(1.1271,1.0242)" font-family="Liberation Sans, sans-serif" font-size="14" fill="#262626">0</text>
<text transform="translate(1057.00,350.36) scale(1.0000,0.9866)" font-family="Liberation Sans, sans-serif" font-size="14" fill="#262626">-1000</text>
<text transform="translate(1056.76,388.68) scale(1.0014,0.9695)" font-family="Liberation Sans, sans-serif" font-size="14" fill="#262626">-2000</text>
<text transform="translate(1047.86,368.51) scale(0.9259,1.1292) rotate(-90)" font-family="Liberation Sans, sans-serif" font-size="25" fill="#262626">Stim (mv)</text>
<text transform="translate(1069.62,449.59) scale(0.9183,1.1022)" font-family="Liberation Sans, sans-serif" font-size="15.5" fill="#262626">100</text>
<text transform="translate(1076.62,487.01) scale(0.9904,1.0639)" font-family="Liberation Sans, sans-serif" font-size="15.5" fill="#262626">95</text>
<text transform="translate(1076.62,526.59) scale(0.9904,1.1022)" font-family="Liberation Sans, sans-serif" font-size="15.5" fill="#262626">90</text>
<text transform="translate(1076.62,565.12) scale(0.9904,1.1214)" font-family="Liberation Sans, sans-serif" font-size="15.5" fill="#262626">85</text>
<text transform="translate(1076.62,602.40) scale(0.9904,1.0926)" font-family="Liberation Sans, sans-serif" font-size="15.5" fill="#262626">80</text>
<text transform="translate(1061.24,578.39) scale(0.9156,1.1139) rotate(-90)" font-family="Liberation Sans, sans-serif" font-size="25" fill="#262626">Sa02 (%)</text>
<text transform="translate(1318.72,618.33) scale(1.0386,0.9368)" font-family="DejaVu Sans, sans-serif" font-size="15.5" fill="#111">5 minutes</text>
<text transform="translate(153.81,155.72) scale(1.0586,0.9951)" font-family="DejaVu Sans, sans-serif" font-size="13.5" fill="#0b1f0b" stroke="#0b1f0b" stroke-width="0.2" font-style="italic">Initialization</text>
<text transform="translate(267.52,155.05) scale(0.9308,1.0126)" font-family="DejaVu Sans, sans-serif" font-size="10.6" fill="#141414" stroke="#141414" stroke-width="0.15" font-style="italic">Stim<tspan dy="2.2">off</tspan><tspan dy="-2.2" font-size="10">1</tspan></text>
<text transform="translate(330.66,155.05) scale(0.9308,1.0126)" font-family="DejaVu Sans, sans-serif" font-size="10.6" fill="#141414" stroke="#141414" stroke-width="0.15" font-style="italic">Stim<tspan dy="2.2">on</tspan><tspan dy="-2.2" font-size="10">2</tspan></text>
<text transform="translate(397.66,155.05) scale(0.9442,1.0126)" font-family="DejaVu Sans, sans-serif" font-size="10.6" fill="#141414" stroke="#141414" stroke-width="0.15" font-style="italic">Stim<tspan dy="2.2">off</tspan><tspan dy="-2.2" font-size="10">3</tspan></text>
<text transform="translate(463.50,155.05) scale(0.9302,1.0126)" font-family="DejaVu Sans, sans-serif" font-size="10.6" fill="#141414" stroke="#141414" stroke-width="0.15" font-style="italic">Stim<tspan dy="2.2">on</tspan><tspan dy="-2.2" font-size="10">4</tspan></text>
<text transform="translate(527.66,155.05) scale(0.9442,1.0126)" font-family="DejaVu Sans, sans-serif" font-size="10.6" fill="#141414" stroke="#141414" stroke-width="0.15" font-style="italic">Stim<tspan dy="2.2">off</tspan><tspan dy="-2.2" font-size="10">5</tspan></text>
<text transform="translate(591.83,155.05) scale(0.9469,1.0126)" font-family="DejaVu Sans, sans-serif" font-size="10.6" fill="#141414" stroke="#141414" stroke-width="0.15" font-style="italic">Stim<tspan dy="2.2">on</tspan><tspan dy="-2.2" font-size="10">6</tspan></text>
<text transform="translate(656.39,155.05) scale(0.9280,1.0126)" font-family="DejaVu Sans, sans-serif" font-size="10.6" fill="#141414" stroke="#141414" stroke-width="0.15" font-style="italic">Stim<tspan dy="2.2">off</tspan><tspan dy="-2.2" font-size="10">7</tspan></text>
<text transform="translate(721.72,155.05) scale(0.9302,1.0126)" font-family="DejaVu Sans, sans-serif" font-size="10.6" fill="#141414" stroke="#141414" stroke-width="0.15" font-style="italic">Stim<tspan dy="2.2">on</tspan><tspan dy="-2.2" font-size="10">8</tspan></text>
<text transform="translate(782.50,155.05) scale(0.9442,1.0126)" font-family="DejaVu Sans, sans-serif" font-size="10.6" fill="#141414" stroke="#141414" stroke-width="0.15" font-style="italic">Stim<tspan dy="2.2">off</tspan><tspan dy="-2.2" font-size="10">9</tspan></text>
<text transform="translate(847.60,155.79) scale(0.9448,1.0488)" font-family="DejaVu Sans, sans-serif" font-size="10.6" fill="#141414" stroke="#141414" stroke-width="0.15" font-style="italic">Stim<tspan dy="2.2">on</tspan><tspan dy="-2.2" font-size="10">10</tspan></text>
<text transform="translate(911.93,155.79) scale(0.9572,1.0488)" font-family="DejaVu Sans, sans-serif" font-size="10.6" fill="#141414" stroke="#141414" stroke-width="0.15" font-style="italic">Stim<tspan dy="2.2">off</tspan><tspan dy="-2.2" font-size="10">11</tspan></text>
<text transform="translate(512.60,513.05) scale(1.2030,1.0374)" font-family="Liberation Sans, sans-serif" font-size="18.5" fill="#111">3</text>
<text transform="translate(640.86,513.05) scale(1.2900,1.0374)" font-family="Liberation Sans, sans-serif" font-size="18.5" fill="#111">4</text>
<text transform="translate(770.10,513.05) scale(1.2030,1.0374)" font-family="Liberation Sans, sans-serif" font-size="18.5" fill="#111">5</text>
<text transform="translate(898.83,513.05) scale(1.2202,1.0374)" font-family="Liberation Sans, sans-serif" font-size="18.5" fill="#111">6</text>
</svg></body></html>
